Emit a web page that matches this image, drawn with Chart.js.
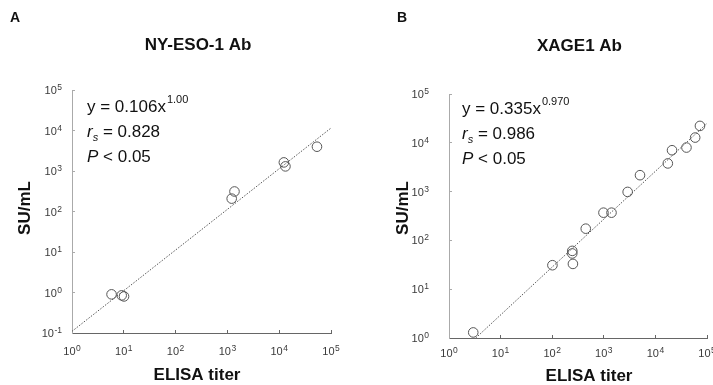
<!DOCTYPE html>
<html>
<head>
<meta charset="utf-8">
<script src="https://cdn.jsdelivr.net/npm/chart.js@4"></script>
<style>
  body { margin: 0; background: #fff; overflow: hidden; width: 713px; height: 385px; position: relative; }
  canvas { position: absolute; top: 0; }
</style>
</head>
<body>
<canvas id="chartA" width="356" height="385" style="left:0"></canvas>
<canvas id="chartB" width="370" height="385" style="left:356px"></canvas>
<script>
/* data */
var titerA = [5.8, 9.1, 10.1, 1210, 1370, 12300, 13200, 53600];
var suA = [0.9, 0.85, 0.8, 208, 312, 1630, 1300, 3980];
var fitA = [{x: 1, y: 0.11}, {x: 100000, y: 11500}];
var xTicksA = [1, 10, 100, 1000, 10000, 100000];
var yTicksA = [0.1, 1, 10, 100, 1000, 10000, 100000];

var titerB = [2.95, 101, 245, 245, 252, 447, 985, 1410, 2900, 5030, 17400, 21000, 40000, 59000, 73000];
var suB = [1.3, 31, 61, 54, 33, 174, 370, 370, 985, 2170, 3780, 7040, 7990, 12800, 22200];
var fitB = [{x: 3.3, y: 1}, {x: 100000, y: 25000}];
var xTicksB = [1, 10, 100, 1000, 10000, 100000];
var yTicksB = [1, 10, 100, 1000, 10000, 100000];

var FONT = 'Arial, "Liberation Sans", sans-serif';

function toPoints(xs, ys) {
    return xs.map((x, i) => ({x: x, y: ys[i]}));
}

function logAxis(min, max, tickValues, axisColor, width, height) {
    return {
        type: 'logarithmic',
        min: min,
        max: max,
        afterBuildTicks: s => { s.ticks = tickValues.map(v => ({value: v})); },
        afterFit: s => {
            if (width) s.width = width;
            if (height) s.height = height;
        },
        grid: {display: true, drawOnChartArea: false, drawTicks: true, tickLength: -3, color: axisColor},
        border: {display: true, color: axisColor, width: 1},
        ticks: {display: false}
    };
}

// "10" with a raised exponent; align: 'center' or 'right'
function drawPow(ctx, v, x, y, align) {
    var e = String(Math.round(Math.log10(v)));
    ctx.font = '11px ' + FONT;
    var w1 = ctx.measureText('10').width;
    ctx.font = '8.5px ' + FONT;
    var w2 = ctx.measureText(e).width;
    var left = align === 'right' ? x - w1 - w2 - 0.5 : x - (w1 + w2 + 0.5) / 2;
    ctx.textAlign = 'left';
    ctx.textBaseline = 'middle';
    ctx.font = '11px ' + FONT;
    ctx.fillText('10', left, y);
    ctx.textBaseline = 'alphabetic';
    ctx.font = '8.5px ' + FONT;
    ctx.fillText(e, left + w1 + 0.5, y - 1);
}

// tick labels, panel letter, title, axis titles, fit annotation
function textPlugin(cfg) {
    return {
        id: 'texts',
        afterDraw: chart => {
            var ctx = chart.ctx;
            var xs = chart.scales.x, ys = chart.scales.y;
            ctx.save();
            ctx.fillStyle = '#3a3a3a';
            xs.ticks.forEach(t => drawPow(ctx, t.value, xs.getPixelForValue(t.value), xs.top + cfg.xLabelGap, 'center'));
            ys.ticks.forEach(t => drawPow(ctx, t.value, ys.right - cfg.yLabelGap, ys.getPixelForValue(t.value) + 1, 'right'));

            ctx.fillStyle = '#111';
            ctx.textBaseline = 'alphabetic';
            ctx.font = 'bold 14px ' + FONT;
            ctx.textAlign = 'left';
            ctx.fillText(cfg.letter, cfg.letterX, 22);

            ctx.font = 'bold 17px ' + FONT;
            ctx.textAlign = 'center';
            ctx.textBaseline = 'middle';
            ctx.fillText(cfg.title, cfg.titleX, cfg.titleY);
            ctx.fillText('ELISA titer', cfg.xTitleX, cfg.xTitleY);
            ctx.save();
            ctx.translate(cfg.yTitleX, cfg.yTitleY);
            ctx.rotate(-Math.PI / 2);
            ctx.fillText('SU/mL', 0, 0);
            ctx.restore();

            // annotation
            ctx.textAlign = 'left';
            ctx.textBaseline = 'alphabetic';
            var x = cfg.noteX, y = cfg.noteY;
            ctx.font = '17px ' + FONT;
            var s = 'y = ' + cfg.coef + 'x';
            ctx.fillText(s, x, y);
            var w = ctx.measureText(s).width;
            ctx.font = '11px ' + FONT;
            ctx.fillText(cfg.exp, x + w + 1, y - 9);

            y += 25;
            ctx.font = 'italic 17px ' + FONT;
            ctx.fillText('r', x, y);
            w = ctx.measureText('r').width;
            ctx.font = 'italic 11px ' + FONT;
            ctx.fillText('s', x + w, y + 4);
            w += ctx.measureText('s').width;
            ctx.font = '17px ' + FONT;
            ctx.fillText(' = ' + cfg.rs, x + w, y);

            y += 25;
            ctx.font = 'italic 17px ' + FONT;
            ctx.fillText('P', x, y);
            w = ctx.measureText('P').width;
            ctx.font = '17px ' + FONT;
            ctx.fillText(' < 0.05', x + w, y);
            ctx.restore();
        }
    };
}

function makeChart(id, pts, fit, xAxis, yAxis, padding, texts) {
    return new Chart(id, {
        type: 'scatter',
        data: {
            datasets: [{
                data: pts,
                pointStyle: 'circle',
                pointRadius: 4.8,
                pointHoverRadius: 4.8,
                pointBorderWidth: 1,
                pointBorderColor: '#555',
                pointBackgroundColor: 'rgba(0,0,0,0)',
                clip: false
            }, {
                type: 'line',
                data: fit,
                showLine: true,
                borderColor: '#555',
                borderWidth: 1,
                borderDash: [1.5, 1.5],
                pointRadius: 0,
                fill: false,
                clip: false
            }]
        },
        options: {
            responsive: false,
            animation: false,
            devicePixelRatio: 1,
            layout: {padding: padding},
            plugins: {legend: {display: false}, tooltip: {enabled: false}},
            scales: {x: xAxis, y: yAxis}
        },
        plugins: [textPlugin(texts)]
    });
}

makeChart('chartA', toPoints(titerA, suA), fitA,
    logAxis(1, 100000, xTicksA, '#666', 0, 52),
    logAxis(0.1, 100000, yTicksA, '#aaa', 72, 0),
    {left: 0, top: 90, right: 25, bottom: 0},
    {letter: 'A', letterX: 10, title: 'NY-ESO-1 Ab', titleX: 198, titleY: 45,
     xTitleX: 197, xTitleY: 375, yTitleX: 25, yTitleY: 208,
     xLabelGap: 19, yLabelGap: 10,
     noteX: 87, noteY: 112, coef: '0.106', exp: '1.00', rs: '0.828'});

makeChart('chartB', toPoints(titerB, suB), fitB,
    logAxis(1, 100000, xTicksB, '#666', 0, 47),
    logAxis(1, 100000, yTicksB, '#aaa', 93, 0),
    {left: 0, top: 94, right: 19, bottom: 0},
    {letter: 'B', letterX: 41, title: 'XAGE1 Ab', titleX: 223.5, titleY: 46.5,
     xTitleX: 233, xTitleY: 376.5, yTitleX: 47, yTitleY: 208,
     xLabelGap: 16, yLabelGap: 20,
     noteX: 106, noteY: 114, coef: '0.335', exp: '0.970', rs: '0.986'});
</script>
</body>
</html>
